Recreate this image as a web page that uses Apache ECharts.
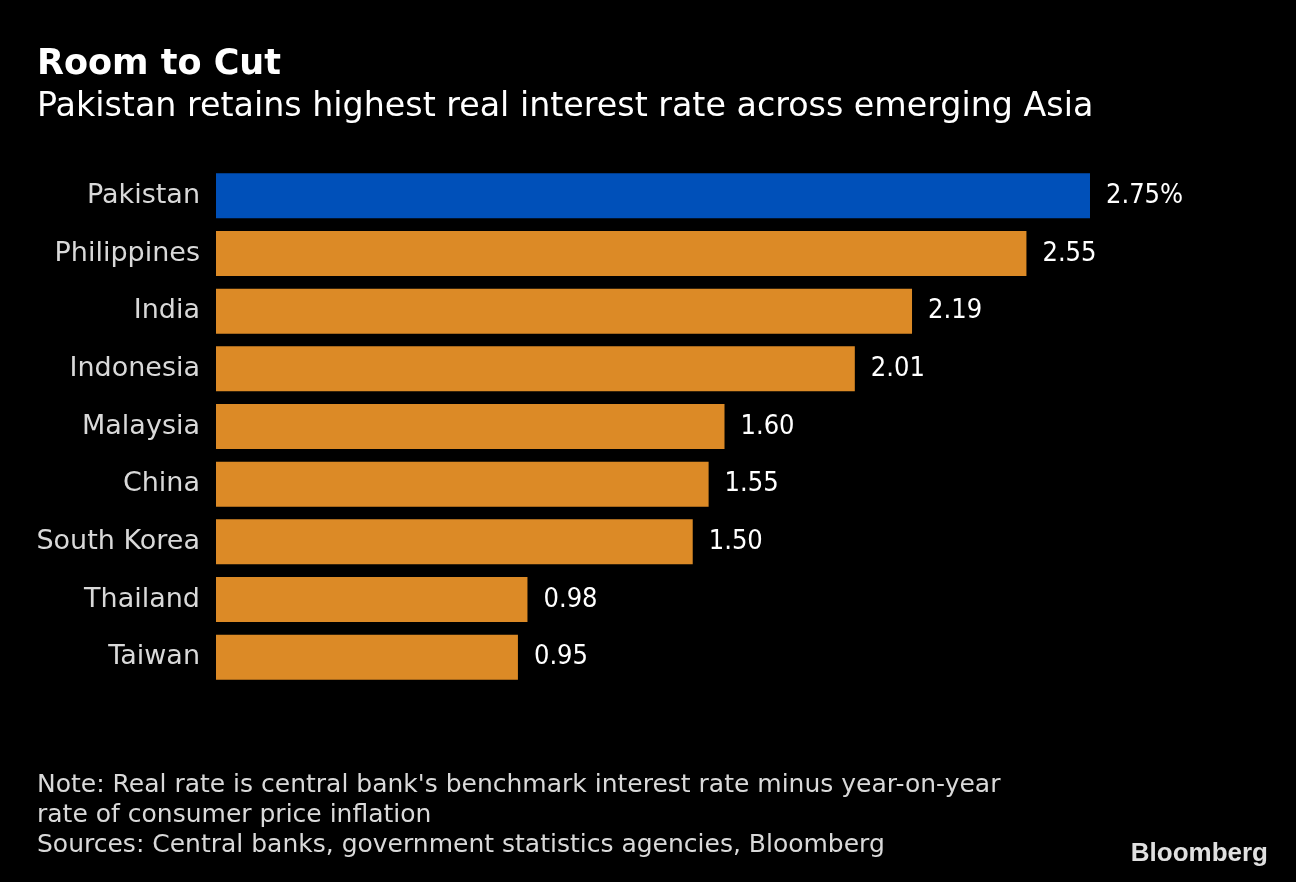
<!DOCTYPE html>
<html><head><meta charset="utf-8">
<script src="https://cdn.jsdelivr.net/npm/echarts@6/dist/echarts.min.js"></script>
<style>html,body{margin:0;padding:0;background:#000;}#c{width:1296px;height:882px;}</style>
</head><body><div id="c"></div>
<script>
const categories = ["Pakistan","Philippines","India","Indonesia","Malaysia","China","South Korea","Thailand","Taiwan"];
const values = [2.75, 2.55, 2.19, 2.01, 1.60, 1.55, 1.50, 0.98, 0.95];
const highlight = "Pakistan";
const FONT = "'DejaVu Sans', sans-serif";
const FONT_C = "'DejaVu Sans Condensed', 'DejaVu Sans', sans-serif";

const chart = echarts.init(document.getElementById('c'));
chart.setOption({
  backgroundColor: '#000',
  animation: false,
  title: [
    {text: 'Room to Cut', left: 32, top: 42, textStyle: {color: '#fff', fontSize: 35, fontWeight: 'bold', fontFamily: FONT}},
    {text: 'Pakistan retains highest real interest rate across emerging Asia', left: 32, top: 86, textStyle: {color: '#fff', fontSize: 33.3, fontWeight: 'normal', fontFamily: FONT}},
    {text: "Note: Real rate is central bank's benchmark interest rate minus year-on-year\nrate of consumer price inflation\nSources: Central banks, government statistics agencies, Bloomberg",
     left: 32, top: 765, textStyle: {color: '#d9d9d9', fontSize: 25, lineHeight: 30, fontWeight: 'normal', fontFamily: FONT}}
  ],
  graphic: [{type: 'text', right: 28, top: 841, style: {text: 'Bloomberg', fill: '#e0e0e0', font: "bold 26px 'Liberation Sans', Arial, sans-serif"}}],
  grid: {left: 216, right: 206, top: 167, bottom: 196, containLabel: false},
  xAxis: {type: 'value', min: 0, max: 2.75, show: false},
  yAxis: {type: 'category', inverse: true, data: categories,
    axisLine: {show: false}, axisTick: {show: false},
    axisLabel: {color: '#d9d9d9', fontSize: 27, margin: 16, fontFamily: FONT}},
  series: [{
    type: 'bar', barCategoryGap: '22%',
    data: values.map((v, i) => ({value: v, itemStyle: {color: categories[i] === highlight ? '#0050B9' : '#DC8A26'}})),
    label: {show: true, position: 'right', distance: 16, color: '#fff', fontSize: 27, fontFamily: FONT_C,
      formatter: p => p.dataIndex === 0 ? p.value.toFixed(2) + '%' : p.value.toFixed(2)}
  }]
});
</script></body></html>
